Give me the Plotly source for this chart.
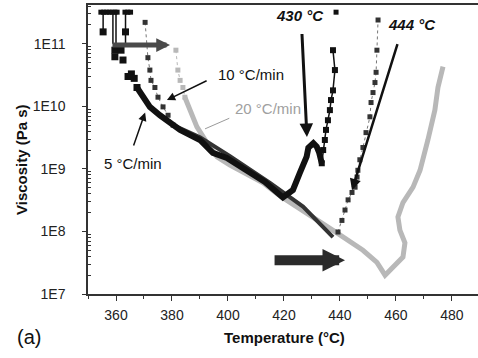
import plotly.graph_objects as go

# ---------------- data ----------------
# 5 °C/min  (black)
t5_top = [354.6, 355.6, 356.6, 357.6, 358.6, 359.6, 360.4, None, 363.2, 364.2, 365.2]
v5_top = [3.2e11, 3.2e11, 3.2e11, 3.2e11, 3.2e11, 3.2e11, 3.2e11, None, 3.2e11, 3.2e11, 3.2e11]
t5_drop = [355.4, 355.4, None, 358.9, 358.9, None, 360.0, 360.0, None, 363.4, 363.4]
v5_drop = [3.2e11, 1.55e11, None, 3.2e11, 1.0e11, None, 3.2e11, 1.0e11, None, 3.2e11, 1.0e11]
t5_early = [355.4, 363.4, 359.6, 361.8, 359.6, 362.5, 364.3, 365.5, 366.5, 367.5]
v5_early = [1.55e11, 1.55e11, 7.9e10, 7.9e10, 6.2e10, 5.5e10, 3.0e10, 3.3e10, 2.8e10, 2.0e10]
t5_band = [367.5, 369.6, 372.1, 375.7, 382.9, 390.0, 394.6, 399.6, 406.8, 413.2, 419.6,
           423.2, 425.7, 428.1, 428.7, 429.9, 430.5, 431.7, 432.6, 433.5]
v5_band = [2.0e10, 1.4e10, 9.8e9, 7.2e9, 4.2e9, 2.9e9, 1.8e9, 1.5e9, 9.5e8, 6.2e8, 3.5e8,
           4.6e8, 8.7e8, 1.57e9, 2.17e9, 2.42e9, 2.58e9, 2.27e9, 1.8e9, 1.23e9]
t5_rise = [433.5, 434.0, 434.6, 435.0, 435.7, 436.4, 436.8, 437.5, 438.2, 437.5]
v5_rise = [1.23e9, 2.0e9, 2.9e9, 4.2e9, 6.0e9, 8.7e9, 1.26e10, 1.8e10, 3.8e10, 7.9e10]
t5_end = [438.6]
v5_end = [3.2e11]

# 10 °C/min  (dark grey squares)
t10_top = [370.4, 371.4, 372.1, 372.5, 373.9, 375.0, 376.8, 378.6, 380.4]
v10_top = [2.2e11, 6.0e10, 3.8e10, 2.6e10, 2.0e10, 1.4e10, 9.8e9, 7.2e9, 5.0e9]
t10_band = [380.4, 390.0, 400.7, 415.0, 426.8, 437.5]
v10_band = [5.0e9, 3.2e9, 1.6e9, 6.0e8, 2.5e8, 8.1e7]
t10_rise = [439.3, 440.7, 441.8, 442.9, 444.3, 445.4, 446.1, 446.4, 447.1, 448.2, 449.3,
            450.7, 451.1, 451.8, 452.5, 452.9, 453.2, 453.6]
v10_rise = [9.8e7, 1.5e8, 2.2e8, 3.2e8, 4.2e8, 5.1e8, 7.4e8, 9.5e8, 1.4e9, 2.2e9, 3.8e9,
            6.8e9, 1.15e10, 1.66e10, 2.4e10, 3.5e10, 7.9e10, 2.4e11]

# 20 °C/min  (light grey)
t20_top = [381.4, 382.1, 382.9, 383.9, 384.6]
v20_top = [7.9e10, 3.8e10, 2.6e10, 2.0e10, 1.4e10]
t20_band = [384.6, 386.4, 388.9, 392.5, 396.1, 400.7, 406.8, 412.5, 418.6, 424.6, 430.4,
            438.9, 448.2, 453.2, 456.1, 459.0, 462.5, 463.2, 461.4, 460.7, 462.5, 466.1,
            468.6, 471.4, 473.9, 475.0, 476.8]
v20_band = [1.4e10, 8.7e9, 4.7e9, 2.6e9, 1.55e9, 1.15e9, 8.3e8, 6.0e8, 3.7e8, 2.5e8, 1.7e8,
            9.5e7, 5.0e7, 3.2e7, 2.0e7, 2.7e7, 3.9e7, 6.6e7, 1.05e8, 1.7e8, 2.9e8, 5.1e8,
            9.5e8, 2.9e9, 8.7e9, 2.0e10, 4.3e10]

x_ticks = [360, 380, 400, 420, 440, 460, 480]
x_minor = [350, 370, 390, 410, 430, 450, 470]
y_ticks = [1e7, 1e8, 1e9, 1e10, 1e11]
y_ticktext = ["1E7", "1E8", "1E9", "1E10", "1E11"]
y_minor = [m * 10 ** e for e in range(7, 12) for m in range(2, 10)]

FONT = "Liberation Sans, Arial, sans-serif"
BLACK = "#111111"
DARK = "#333333"
LIGHT = "#b8b8b8"

fig = go.Figure()

# 20 °C/min
fig.add_trace(go.Scatter(x=t20_top, y=v20_top, mode="lines+markers",
                         line=dict(color=LIGHT, width=1, dash="dot"),
                         marker=dict(symbol="square", size=5, color=LIGHT)))
fig.add_trace(go.Scatter(x=t20_band, y=v20_band, mode="lines",
                         line=dict(color=LIGHT, width=5)))
# 10 °C/min
fig.add_trace(go.Scatter(x=t10_top, y=v10_top, mode="lines+markers",
                         line=dict(color="#777777", width=1, dash="dot"),
                         marker=dict(symbol="square", size=5, color=DARK)))
fig.add_trace(go.Scatter(x=t10_band, y=v10_band, mode="lines",
                         line=dict(color=DARK, width=4)))
fig.add_trace(go.Scatter(x=t10_rise, y=v10_rise, mode="lines+markers",
                         line=dict(color="#777777", width=1, dash="dot"),
                         marker=dict(symbol="square", size=5, color=DARK)))
# 5 °C/min
fig.add_trace(go.Scatter(x=t5_drop, y=v5_drop, mode="lines",
                         line=dict(color=BLACK, width=1.5)))
fig.add_trace(go.Scatter(x=t5_top, y=v5_top, mode="lines+markers",
                         line=dict(color=BLACK, width=4),
                         marker=dict(symbol="square", size=5, color=BLACK)))
fig.add_trace(go.Scatter(x=t5_early, y=v5_early, mode="markers",
                         marker=dict(symbol="square", size=7, color=BLACK)))
fig.add_trace(go.Scatter(x=t5_band, y=v5_band, mode="lines",
                         line=dict(color=BLACK, width=6)))
fig.add_trace(go.Scatter(x=t5_rise, y=v5_rise, mode="lines+markers",
                         line=dict(color=BLACK, width=1.5),
                         marker=dict(symbol="square", size=6, color=BLACK)))
fig.add_trace(go.Scatter(x=t5_end, y=v5_end, mode="markers",
                         marker=dict(symbol="square", size=5, color=BLACK)))

ann = []
def txt(x, y, s, size, color="#111111", angle=0, xref="paper", yref="paper"):
    ann.append(dict(x=x, y=y, xref=xref, yref=yref, text=s, showarrow=False,
                    font=dict(family=FONT, size=size, color=color), textangle=angle,
                    xanchor="center", yanchor="middle"))

def arrow(x, y, ax, ay, color, width, head=2, size=1.0):
    ann.append(dict(x=x, y=y, ax=ax, ay=ay, xref="x", yref="y", axref="x", ayref="y",
                    text="", showarrow=True, arrowhead=head, arrowsize=size,
                    arrowwidth=width, arrowcolor=color, standoff=0, startstandoff=0))

txt(0.544, 0.965, "<b><i>430 °C</i></b>", 15)
txt(0.831, 0.934, "<b><i>444 °C</i></b>", 15)
txt(0.418, 0.758, "10 °C/min", 15)
txt(0.462, 0.641, "20 °C/min", 15, color="#a0a0a0")
txt(0.115, 0.453, "5 °C/min", 15)
txt(0.503, -0.152, "<b>Temperature (°C)</b>", 15)
txt(-0.169, 0.464, "<b>Viscosity (Pa s)</b>", 15, angle=-90)
txt(-0.151, -0.149, "(a)", 20)

# arrows (positions in data units; y as log10)
arrow(379.3, 10.98, 358.2, 10.98, "#4a4a4a", 5, head=2, size=0.55)
arrow(441.8, 7.54, 416.1, 7.54, "#2b2b2b", 10, head=2, size=0.45)
arrow(428.2, 9.51, 426.4, 11.18, BLACK, 3, head=2, size=0.9)
arrow(444.3, 8.66, 460.7, 11.02, BLACK, 2.5, head=2, size=0.9)
arrow(370.4, 9.90, 366.1, 9.35, BLACK, 1.5, head=2, size=1.1)
arrow(378.2, 10.10, 392.9, 10.42, BLACK, 1.5, head=2, size=1.1)
arrow(391.8, 9.64, 401.0, 9.82, "#9a9a9a", 1, head=0)

fig.update_layout(
    width=478, height=358,
    margin=dict(l=88, r=0, t=5, b=64),
    paper_bgcolor="white", plot_bgcolor="white",
    showlegend=False,
    font=dict(family=FONT, size=14, color="#222222"),
    annotations=ann,
    xaxis=dict(range=[350, 489.3], showline=True, linecolor="#333333", linewidth=1.5,
               mirror=True, ticks="outside", ticklen=5, tickwidth=1.2, tickcolor="#333333",
               tickvals=x_ticks, ticktext=[str(v) for v in x_ticks],
               minor=dict(ticks="outside", ticklen=3, tickcolor="#333333", tickvals=x_minor),
               showgrid=False, zeroline=False, tickfont=dict(size=14, color="#222222"),
               ticklabelstandoff=2),
    yaxis=dict(type="log", range=[7, 11.62], showline=True, linecolor="#333333", linewidth=1.5,
               ticks="outside", ticklen=4, tickwidth=1.2, tickcolor="#333333",
               tickvals=y_ticks, ticktext=y_ticktext,
               minor=dict(ticks="inside", ticklen=3, tickcolor="#333333", tickvals=y_minor),
               showgrid=False, zeroline=False, tickfont=dict(size=14, color="#222222"),
               ticklabelstandoff=14),
)

fig.write_html("out.html")
